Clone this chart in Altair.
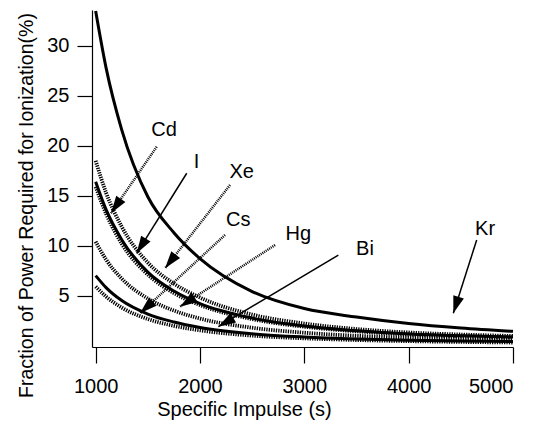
import math
import altair as alt
import pandas as pd

# ---- data ----
isp = [1000, 1100, 1250, 1500, 1750, 2000, 2500, 3000, 3500, 4000, 4500, 5000]
kr = [33.5, 27.8, 21.6, 14.9, 11.3, 8.7, 5.4, 3.7, 2.85, 2.2, 1.75, 1.42]
xe = [18.5, 15.3, 11.9, 8.3, 6.2, 4.8, 3.1, 2.2, 1.65, 1.3, 1.1, 0.95]
iodine = [16.4, 13.6, 10.6, 7.35, 5.45, 4.2, 2.75, 1.95, 1.47, 1.15, 0.97, 0.85]
cd = [15.9, 13.2, 10.2, 7.1, 5.25, 4.05, 2.65, 1.88, 1.42, 1.1, 0.93, 0.8]
hg = [10.4, 8.6, 6.7, 4.7, 3.5, 2.7, 1.78, 1.28, 0.97, 0.77, 0.64, 0.55]
bi = [7.0, 5.8, 4.5, 3.15, 2.35, 1.8, 1.18, 0.85, 0.65, 0.52, 0.45, 0.4]
cs = [5.9, 4.9, 3.8, 2.65, 1.97, 1.52, 0.99, 0.72, 0.55, 0.44, 0.36, 0.3]

solid_names = ["Kr", "I", "Bi"]
solid_vals = [kr, iodine, bi]
dotted_names = ["Xe", "Cd", "Hg", "Cs"]
dotted_vals = [xe, cd, hg, cs]

labels = ["Cd", "I", "Xe", "Cs", "Hg", "Bi", "Kr"]
label_x = [1655, 1967, 2400, 2367, 2942, 3581, 4732]
label_y = [21.6, 18.4, 17.4, 12.6, 11.2, 9.7, 11.7]
arrow_x0 = [1585, 1873, 2288, 2240, 2719, 3326, 4652]
arrow_y0 = [19.9, 17.25, 16.07, 11.07, 10.06, 9.06, 10.57]
arrow_x1 = [1147, 1393, 1665, 1425, 1808, 2176, 4428]
arrow_y1 = [13.25, 9.23, 7.73, 3.22, 3.89, 1.88, 3.22]
arrow_dotted = [True, False, True, True, True, False, False]

x_ticks = [1000, 2000, 3000, 4000, 5000]
y_ticks = [5, 10, 15, 20, 25, 30]

# ---- layout ----
W, H = 421, 337
XDOM = [965, 5000]
YDOM = [-0.15, 33.6]
PX_X = W / (XDOM[1] - XDOM[0])
PX_Y = H / (YDOM[1] - YDOM[0])
FONT = "Liberation Sans"

def frame(names, vals):
    rows = []
    for n, v in zip(names, vals):
        for x, y in zip(isp, v):
            rows.append({"x": x, "y": y, "element": n})
    return pd.DataFrame(rows)

solid_df = frame(solid_names, solid_vals)
dotted_df = frame(dotted_names, dotted_vals)

angles = []
for x0, y0, x1, y1 in zip(arrow_x0, arrow_y0, arrow_x1, arrow_y1):
    dx = (x1 - x0) * PX_X
    dys = -(y1 - y0) * PX_Y
    angles.append(math.degrees(math.atan2(dx, -dys)) % 360)

ann = pd.DataFrame({
    "label": labels, "lx": label_x, "ly": label_y,
    "x": arrow_x0, "y": arrow_y0, "x1": arrow_x1, "y1": arrow_y1,
    "dotted": arrow_dotted, "angle": angles,
})

xs = alt.Scale(domain=XDOM, nice=False, zero=False)
ys = alt.Scale(domain=YDOM, nice=False, zero=False)

x_axis = alt.Axis(values=x_ticks, tickSize=16,
                  labelBaseline="alphabetic", labelPadding=29, format="d",
                  titleX=152, titleY=68, titleBaseline="alphabetic", titleAlign="center")
y_axis = alt.Axis(values=y_ticks,
                  tickSize=15, labelPadding=8, format="d",
                  titleX=-60, titleY=195, titleAngle=270, titleBaseline="alphabetic",
                  titleAlign="center", titleFontSize=19.5)
XT = "Specific Impulse (s)"
YT = "Fraction of Power Required for Ionization(%)"

def X(field):
    return alt.X(field, type="quantitative", scale=xs, axis=x_axis, title=XT)

def Y(field):
    return alt.Y(field, type="quantitative", scale=ys, axis=y_axis, title=YT)

solid = alt.Chart(solid_df).mark_line(strokeWidth=3, interpolate="monotone", color="black").encode(
    x=X("x"), y=Y("y"), detail="element:N",
)
dotted = alt.Chart(dotted_df).mark_line(strokeWidth=3.8, strokeDash=[1.3, 1.1],
                                        interpolate="monotone", color="black").encode(
    x=X("x"), y=Y("y"), detail="element:N",
)
arrows_solid = alt.Chart(ann).transform_filter("!datum.dotted").mark_rule(
    strokeWidth=1.5, color="black").encode(
    x=X("x"), y=Y("y"), x2="x1:Q", y2="y1:Q",
)
arrows_dotted = alt.Chart(ann).transform_filter("datum.dotted").mark_rule(
    strokeWidth=2.5, strokeDash=[1, 1], color="black").encode(
    x=X("x"), y=Y("y"), x2="x1:Q", y2="y1:Q",
)
heads = alt.Chart(ann).mark_point(shape="M0,0L-0.32,1L0.32,1Z", filled=True, size=1200,
                                  color="black", opacity=1, strokeWidth=0).encode(
    x=X("x1"), y=Y("y1"), angle=alt.Angle("angle:Q", scale=None),
)
texts = alt.Chart(ann).mark_text(font=FONT, fontSize=20, align="center", baseline="middle",
                                 color="black").encode(
    x=X("lx"), y=Y("ly"), text="label:N",
)

chart = alt.layer(solid, dotted, arrows_solid, arrows_dotted, heads, texts).properties(
    width=W, height=H,
    autosize=alt.AutoSizeParams(type="none"),
    padding={"left": 84, "top": 2, "right": 30, "bottom": 80},
).configure_view(stroke=None).configure_axis(
    grid=False, domainColor="black", tickColor="black", domainWidth=1.2, tickWidth=1.2,
    labelColor="black", titleColor="black", labelFont=FONT, titleFont=FONT,
    labelFontSize=20, titleFontSize=20, titleFontWeight="normal",
)

chart.save("out.html", embed_options={"renderer": "svg", "actions": False})
